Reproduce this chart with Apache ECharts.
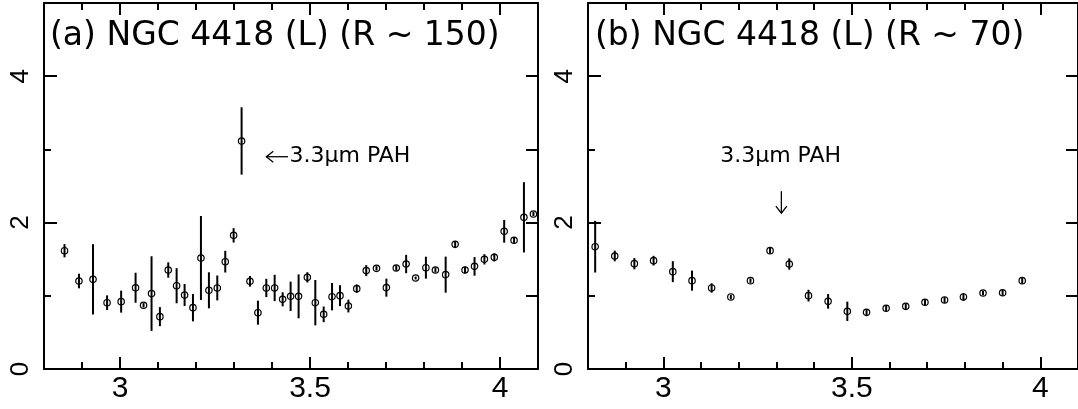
<!DOCTYPE html>
<html>
<head>
<meta charset="utf-8">
<script src="https://cdn.jsdelivr.net/npm/echarts@6/dist/echarts.min.js"></script>
<style>
  html, body { margin: 0; padding: 0; background: #fff; }
  #chart { width: 1078px; height: 409px; }
</style>
</head>
<body>
<div id="chart"></div>
<script>
// Panel (a): L-band spectrum of NGC 4418 at R ~ 150 (wavelength in micron, flux, 1-sigma error)
const waveA = [2.854, 2.892, 2.929, 2.966, 3.003, 3.041, 3.062, 3.083, 3.105, 3.127,
               3.149, 3.170, 3.192, 3.213, 3.234, 3.256, 3.277, 3.299, 3.320, 3.342,
               3.363, 3.385, 3.407, 3.428, 3.449, 3.470, 3.493, 3.514, 3.536, 3.558,
               3.579, 3.601, 3.623, 3.648, 3.675, 3.701, 3.727, 3.753, 3.778, 3.805,
               3.830, 3.857, 3.882, 3.908, 3.933, 3.959, 3.985, 4.011, 4.037, 4.063, 4.088];
const fluxA = [1.616, 1.202, 1.225, 0.906, 0.920, 1.110, 0.870, 1.030, 0.715, 1.352,
               1.138, 1.011, 0.838, 1.516, 1.075, 1.107, 1.466, 1.826, 3.115, 1.198,
               0.769, 1.107, 1.107, 0.952, 0.993, 0.993, 1.252, 0.906, 0.747, 0.988,
               1.002, 0.860, 1.098, 1.344, 1.375, 1.111, 1.380, 1.434, 1.243, 1.384,
               1.352, 1.289, 1.703, 1.352, 1.402, 1.498, 1.525, 1.881, 1.758, 2.072, 2.117];
const errA  = [0.090, 0.100, 0.480, 0.100, 0.150, 0.205, 0.030, 0.510, 0.130, 0.105,
               0.240, 0.150, 0.187, 0.574, 0.246, 0.170, 0.148, 0.098, 0.460, 0.073,
               0.164, 0.125, 0.180, 0.096, 0.200, 0.300, 0.070, 0.310, 0.107, 0.187,
               0.143, 0.087, 0.057, 0.075, 0.030, 0.123, 0.036, 0.125, 0.020, 0.150,
               0.036, 0.246, 0.045, 0.045, 0.127, 0.070, 0.055, 0.155, 0.040, 0.480, 0.030];

// Panel (b): same target at R ~ 70
const waveB = [2.819, 2.871, 2.923, 2.974, 3.025, 3.076, 3.128, 3.179, 3.231, 3.283,
               3.334, 3.385, 3.437, 3.488, 3.539, 3.591, 3.643, 3.694, 3.746, 3.796,
               3.848, 3.900, 3.952];
const fluxB = [1.671, 1.544, 1.439, 1.480, 1.330, 1.207, 1.107, 0.984, 1.207, 1.617,
               1.434, 1.002, 0.924, 0.788, 0.774, 0.829, 0.856, 0.911, 0.943, 0.984,
               1.038, 1.042, 1.207];
const errB  = [0.353, 0.073, 0.077, 0.066, 0.143, 0.137, 0.064, 0.030, 0.030, 0.036,
               0.077, 0.080, 0.100, 0.132, 0.045, 0.036, 0.040, 0.040, 0.040, 0.050,
               0.030, 0.040, 0.040];

const panelTitles = ['(a) NGC 4418 (L) (R ~ 150)', '(b) NGC 4418 (L) (R ~ 70)'];
const featureLabel = '3.3μm PAH';

// Tick values
const xMajorTicks = [3, 3.5, 4];
const xMinorTicks = [2.9, 3.0, 3.1, 3.2, 3.3, 3.4, 3.5, 3.6, 3.7, 3.8, 3.9, 4.0];
const yMajorTicks = [0, 2, 4];
const yMinorTicks = [1, 3];
const yRightTicks = [1, 2, 3, 4];

const X_RANGE = [2.8, 4.1];
const Y_RANGE = [0, 5];
const INK = '#000';
const LABEL_FONT = '"Liberation Sans", Arial, sans-serif';
const TEXT_FONT = '"DejaVu Sans", sans-serif';

const grids = [
  { left: 44, top: 3, width: 494, height: 366 },
  { left: 588, top: 3, width: 495, height: 366 }
];

const xAxes = [];
const yAxes = [];
grids.forEach((g, gi) => {
  const base = { type: 'value', gridIndex: gi, min: X_RANGE[0], max: X_RANGE[1],
                 splitLine: { show: false }, axisLabel: { show: false } };
  // bottom edge: labels + major ticks
  xAxes.push(Object.assign({}, base, {
    position: 'bottom',
    axisLine: { show: true, onZero: false, lineStyle: { color: INK, width: 2 } },
    axisTick: { show: true, inside: true, length: 12, customValues: xMajorTicks,
                lineStyle: { color: INK, width: 2 } },
    axisLabel: { show: true, customValues: xMajorTicks, color: INK, fontSize: 30,
                 fontFamily: LABEL_FONT, margin: 5, formatter: v => String(v) }
  }));
  // bottom edge: minor ticks
  xAxes.push(Object.assign({}, base, {
    position: 'bottom',
    axisLine: { show: false, onZero: false },
    axisTick: { show: true, inside: true, length: 7, customValues: xMinorTicks,
                lineStyle: { color: INK, width: 2 } }
  }));
  // top edge: major ticks
  xAxes.push(Object.assign({}, base, {
    position: 'top',
    axisLine: { show: true, onZero: false, lineStyle: { color: INK, width: 2 } },
    axisTick: { show: true, inside: true, length: 12, customValues: xMajorTicks,
                lineStyle: { color: INK, width: 2 } }
  }));
  // top edge: minor ticks
  xAxes.push(Object.assign({}, base, {
    position: 'top',
    axisLine: { show: false, onZero: false },
    axisTick: { show: true, inside: true, length: 7, customValues: xMinorTicks,
                lineStyle: { color: INK, width: 2 } }
  }));

  const ybase = { type: 'value', gridIndex: gi, min: Y_RANGE[0], max: Y_RANGE[1],
                  splitLine: { show: false }, axisLabel: { show: false } };
  // left edge: labels + major ticks
  yAxes.push(Object.assign({}, ybase, {
    position: 'left',
    axisLine: { show: true, onZero: false, lineStyle: { color: INK, width: 2 } },
    axisTick: { show: true, inside: true, length: 13, customValues: yMajorTicks,
                lineStyle: { color: INK, width: 2 } },
    axisLabel: { show: true, customValues: yMajorTicks, rotate: 90, color: INK,
                 fontSize: 26, fontFamily: LABEL_FONT, margin: 10 }
  }));
  // left edge: minor ticks
  yAxes.push(Object.assign({}, ybase, {
    position: 'left',
    axisLine: { show: false, onZero: false },
    axisTick: { show: true, inside: true, length: 7, customValues: yMinorTicks,
                lineStyle: { color: INK, width: 2 } }
  }));
  // right edge
  yAxes.push(Object.assign({}, ybase, {
    position: 'right',
    axisLine: { show: true, onZero: false, lineStyle: { color: INK, width: 2 } },
    axisTick: { show: true, inside: true, length: 12, customValues: yRightTicks,
                lineStyle: { color: INK, width: 2 } }
  }));
});

// Error bar with an open circle at the measured flux
function renderPoint(params, api) {
  const x = api.value(0), y = api.value(1), e = api.value(2);
  const c = api.coord([x, y]);
  const hi = api.coord([x, y + e]);
  const lo = api.coord([x, y - e]);
  return {
    type: 'group',
    children: [
      { type: 'line', shape: { x1: c[0], y1: hi[1], x2: c[0], y2: lo[1] },
        style: { stroke: INK, lineWidth: 2 } },
      { type: 'circle', shape: { cx: c[0], cy: c[1], r: 3.2 },
        style: { fill: 'none', stroke: INK, lineWidth: 1.2 } }
    ]
  };
}

// Arrow (tail -> head) plus a text label, all placed in data coordinates
function renderNote(params, api) {
  const tail = api.coord([api.value(0), api.value(1)]);
  const head = api.coord([api.value(2), api.value(3)]);
  const txt = api.coord([api.value(4), api.value(5)]);
  const align = api.value(6) === 0 ? 'left' : 'center';
  const dx = head[0] - tail[0], dy = head[1] - tail[1];
  const len = Math.hypot(dx, dy) || 1;
  const ux = dx / len, uy = dy / len;
  const hl = 7, hw = 5.5;
  const bx = head[0] - ux * hl, by = head[1] - uy * hl;
  return {
    type: 'group',
    children: [
      { type: 'line', shape: { x1: tail[0], y1: tail[1], x2: head[0], y2: head[1] },
        style: { stroke: INK, lineWidth: 1.3 } },
      { type: 'polyline',
        shape: { points: [[bx - uy * hw, by + ux * hw], head, [bx + uy * hw, by - ux * hw]] },
        style: { stroke: INK, lineWidth: 1.3, fill: 'none' } },
      { type: 'text', x: txt[0], y: txt[1],
        style: { text: featureLabel, fill: INK, fontSize: 22, fontFamily: TEXT_FONT,
                 align: align, verticalAlign: 'middle' } }
    ]
  };
}

const rows = (w, f, e) => w.map((x, i) => [x, f[i], e[i]]);

const titleStyle = { color: INK, fontSize: 33, fontWeight: 'normal', fontFamily: TEXT_FONT };

const option = {
  animation: false,
  backgroundColor: '#fff',
  title: [
    { text: panelTitles[0], left: 45, top: 15, textStyle: titleStyle },
    { text: panelTitles[1], left: 590, top: 15, textStyle: titleStyle }
  ],
  grid: grids,
  xAxis: xAxes,
  yAxis: yAxes,
  series: [
    { type: 'custom', xAxisIndex: 0, yAxisIndex: 0, renderItem: renderPoint,
      data: rows(waveA, fluxA, errA), clip: false },
    { type: 'custom', xAxisIndex: 4, yAxisIndex: 3, renderItem: renderPoint,
      data: rows(waveB, fluxB, errB), clip: false },
    { type: 'custom', xAxisIndex: 0, yAxisIndex: 0, renderItem: renderNote, silent: true,
      data: [[3.442, 2.90, 3.385, 2.90, 3.446, 2.90, 0]] },
    { type: 'custom', xAxisIndex: 4, yAxisIndex: 3, renderItem: renderNote, silent: true,
      data: [[3.313, 2.43, 3.313, 2.13, 3.311, 2.90, 1]] }
  ]
};

const chart = echarts.init(document.getElementById('chart'), null, { renderer: 'canvas' });
chart.setOption(option);
</script>
</body>
</html>
